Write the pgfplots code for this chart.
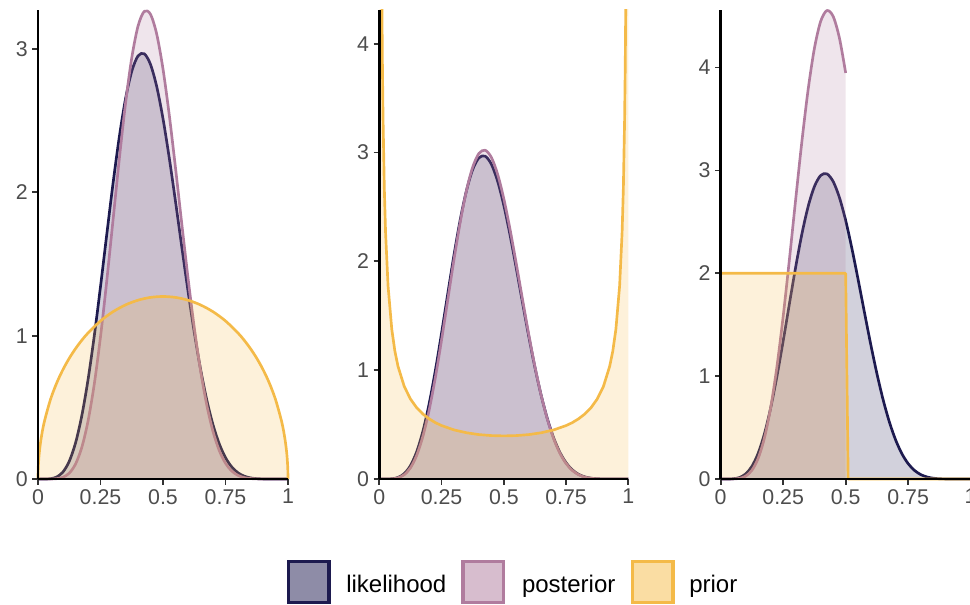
\documentclass[border=0pt]{standalone}
\usepackage{pgfplots}
\pgfplotsset{compat=1.18}
\usepackage{pgfplotstable}
\usepackage{fontspec}
\setmainfont{Liberation Sans}
\definecolor{likC}{RGB}{29,26,79}
\definecolor{postC}{RGB}{176,124,158}
\definecolor{priC}{RGB}{244,186,72}
\definecolor{tickC}{RGB}{77,77,77}

\pgfplotstableread{
x y
0 0
0.025 0.0001
0.05 0.0022
0.075 0.0142
0.1 0.0492
0.125 0.1234
0.15 0.2506
0.175 0.4396
0.2 0.6910
0.225 0.9970
0.25 1.3421
0.275 1.7049
0.3 2.0604
0.325 2.3835
0.35 2.6510
0.375 2.8444
0.4 2.9514
0.425 2.9668
0.45 2.8925
0.475 2.7369
0.5 2.5137
0.525 2.2404
0.55 1.9363
0.575 1.6209
0.6 1.3117
0.625 1.0240
0.65 0.7686
0.675 0.5526
0.7 0.3785
0.725 0.2453
0.75 0.1491
0.775 0.0840
0.8 0.0432
0.825 0.0198
0.85 0.0078
0.875 0.0025
0.9 0.0006
0.925 0.0001
0.95 0
1 0
}\lik

\pgfplotstableread{
x y
0 0
0.001 0.0805
0.005 0.1796
0.0125 0.2829
0.025 0.3976
0.05 0.5550
0.075 0.6707
0.1 0.7639
0.125 0.8422
0.15 0.9093
0.175 0.9676
0.2 1.0186
0.25 1.1027
0.3 1.1670
0.35 1.2146
0.4 1.2475
0.45 1.2669
0.5 1.2732
0.55 1.2669
0.6 1.2475
0.65 1.2146
0.7 1.1670
0.75 1.1027
0.8 1.0186
0.825 0.9676
0.85 0.9093
0.875 0.8422
0.9 0.7639
0.925 0.6707
0.95 0.5550
0.975 0.3976
0.9875 0.2829
0.995 0.1796
0.999 0.0805
1 0
}\priorA

\pgfplotstableread{
x y
0 0
0.05 0.0002
0.075 0.0024
0.1 0.0121
0.125 0.0406
0.15 0.1039
0.175 0.2195
0.2 0.4026
0.225 0.6609
0.25 0.9919
0.275 1.3817
0.3 1.8050
0.325 2.2295
0.35 2.6187
0.375 2.9380
0.4 3.1590
0.425 3.2627
0.45 3.2422
0.475 3.1027
0.5 2.8604
0.525 2.5398
0.55 2.1704
0.575 1.7825
0.6 1.4040
0.625 1.0577
0.65 0.7592
0.675 0.5169
0.7 0.3316
0.725 0.1988
0.75 0.1102
0.775 0.0557
0.8 0.0252
0.825 0.0099
0.85 0.0032
0.875 0.0008
0.9 0.0002
0.925 0
1 0
}\postA

\pgfplotstableread{
x y
0 14.8
0.002 14.8
0.005 7.47
0.0075 5.519
0.01 4.456
0.0125 3.776
0.015 3.301
0.02 2.670
0.025 2.267
0.035 1.775
0.05 1.375
0.0625 1.174
0.075 1.035
0.1 0.851
0.125 0.735
0.15 0.655
0.175 0.597
0.2 0.553
0.225 0.518
0.25 0.491
0.3 0.451
0.35 0.425
0.4 0.408
0.45 0.399
0.5 0.396
0.55 0.399
0.6 0.408
0.65 0.425
0.7 0.451
0.75 0.491
0.775 0.518
0.8 0.553
0.825 0.597
0.85 0.655
0.875 0.735
0.9 0.851
0.925 1.035
0.9375 1.174
0.95 1.375
0.965 1.775
0.975 2.267
0.98 2.670
0.985 3.301
0.9875 3.776
0.99 4.456
0.9925 5.519
0.995 7.47
0.998 14.8
1 14.8
}\priorB

\pgfplotstableread{
x y
0 0
0.05 0.0015
0.075 0.0105
0.1 0.0391
0.125 0.1028
0.15 0.2169
0.175 0.3925
0.2 0.6330
0.225 0.9332
0.25 1.2792
0.275 1.6501
0.3 2.0202
0.325 2.3627
0.35 2.6519
0.375 2.8665
0.4 2.9921
0.425 3.0213
0.45 2.9550
0.475 2.8014
0.5 2.5745
0.525 2.2932
0.55 1.9781
0.575 1.6507
0.6 1.3298
0.625 1.0320
0.65 0.7689
0.675 0.5478
0.7 0.3711
0.725 0.2374
0.75 0.1421
0.775 0.0786
0.8 0.0396
0.825 0.0177
0.85 0.0068
0.875 0.0021
0.9 0.0005
0.925 0
1 0
}\postB

\pgfplotstableread{
x y
0 0
0.05 0.0007
0.075 0.0062
0.1 0.0278
0.125 0.0848
0.15 0.2007
0.175 0.3987
0.2 0.6946
0.225 1.0922
0.25 1.5809
0.275 2.1355
0.3 2.7183
0.325 3.2849
0.35 3.7889
0.375 4.1882
0.4 4.4500
0.425 4.5548
0.45 4.4975
0.475 4.2878
0.5 3.9480
}\postC

\pgfplotstableread{
x y
0 2
0.5 2
0.51 0
1 0
}\priorC

\pgfplotsset{
  panel/.style={
    scale only axis, anchor=south west, height=351.75pt,
    xmin=0, xmax=1, ymin=0,
    axis lines=left, axis line style={-, line width=1.9pt, black},
    axis on top,
    tick align=outside, major tick length=4.2pt,
    major tick style={line width=1.3pt, color=black!80},
    xtick={0,0.25,0.5,0.75,1}, xticklabels={0,0.25,0.5,0.75,1},
    ticklabel style={font=\fontsize{16}{16}\selectfont, text=tickC},
    /pgf/number format/assume math mode=true,
    clip=false,
  },
  fL/.style={draw=none, fill=likC, fill opacity=0.2},
  fP/.style={draw=none, fill=postC, fill opacity=0.2},
  fR/.style={draw=none, fill=priC, fill opacity=0.2},
  lL/.style={likC, line width=2pt, line join=round, no markers},
  lP/.style={postC, line width=2pt, line join=round, no markers},
  lR/.style={priC, line width=2pt, line join=round, no markers},
}

\begin{document}
\begin{tikzpicture}
\path[use as bounding box] (0,0) rectangle (727.5pt,453pt);

\begin{axis}[panel, at={(28.5pt,93.75pt)}, width=187.5pt, ymax=3.272, ytick={0,1,2,3}]
\addplot[fL] table {\lik} \closedcycle;
\addplot[lL, smooth] table {\lik};
\addplot[fP] table {\postA} \closedcycle;
\addplot[lP, smooth] table {\postA};
\addplot[fR] table {\priorA} \closedcycle;
\addplot[lR, smooth] table {\priorA};
\end{axis}

\begin{axis}[panel, at={(284.5pt,93.75pt)}, width=186.75pt, ymax=4.31, ytick={0,1,2,3,4}, clip=true]
\addplot[fL] table {\lik} \closedcycle;
\addplot[lL, smooth] table {\lik};
\addplot[fP] table {\postB} \closedcycle;
\addplot[lP, smooth] table {\postB};
\addplot[fR] table {\priorB} \closedcycle;
\addplot[lR, restrict x to domain=0.001:0.999] table {\priorB};
\end{axis}

\begin{axis}[panel, at={(540.5pt,93.75pt)}, width=187.5pt, ymax=4.56, ytick={0,1,2,3,4}]
\addplot[fL] table {\lik} \closedcycle;
\addplot[lL, smooth] table {\lik};
\addplot[fP] table {\postC} \closedcycle;
\addplot[lP, smooth] table {\postC};
\addplot[fR] table {\priorC} \closedcycle;
\addplot[lR] table {\priorC};
\end{axis}

\begin{scope}[font=\fontsize{18}{18}\selectfont]
\draw[likC, line width=2.5pt, fill=likC!50] (216.15pt,1.25pt) rectangle (246.65pt,31.75pt);
\draw[postC, line width=2.5pt, fill=postC!50] (347.15pt,1.25pt) rectangle (377.65pt,31.75pt);
\draw[priC, line width=2.5pt, fill=priC!50] (474.15pt,1.25pt) rectangle (504.65pt,31.75pt);
\node[anchor=base west, inner sep=0pt] at (259.5pt,8.5pt) {likelihood};
\node[anchor=base west, inner sep=0pt] at (391.3pt,8.5pt) {posterior};
\node[anchor=base west, inner sep=0pt] at (516.75pt,8.5pt) {prior};
\end{scope}
\end{tikzpicture}
\end{document}
